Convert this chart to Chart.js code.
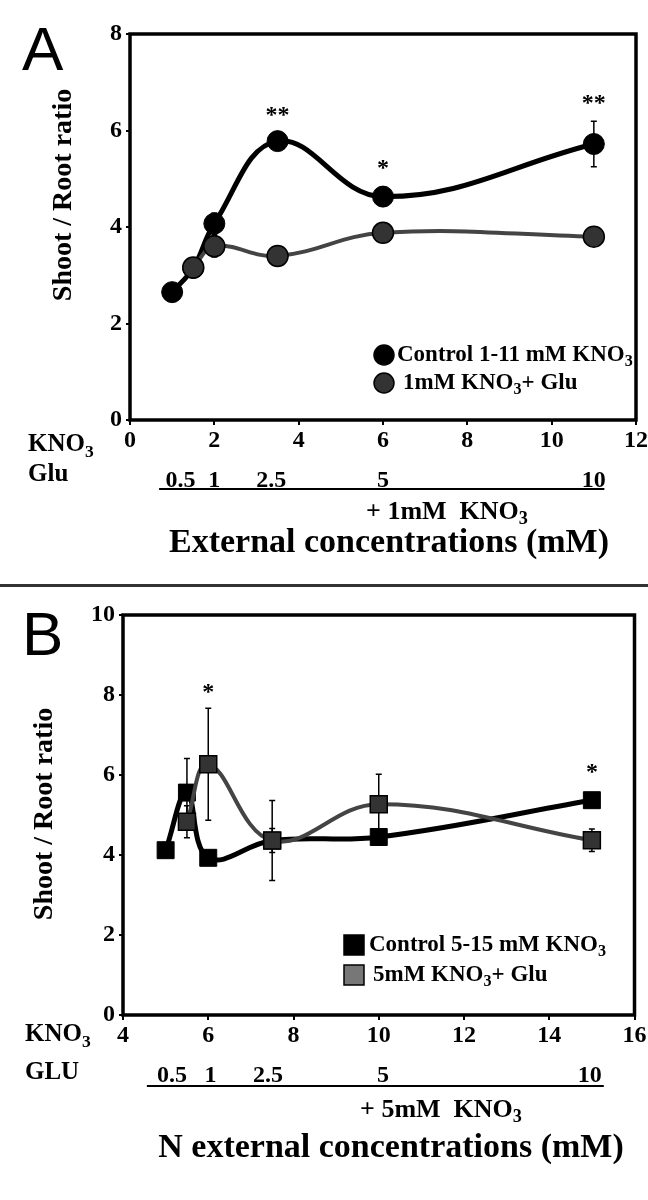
<!DOCTYPE html>
<html>
<head>
<meta charset="utf-8">
<script src="https://cdn.jsdelivr.net/npm/chart.js@4"></script>
<style>
  body { margin: 0; background: #fff; }
  .panel { position: relative; width: 648px; }
  #wrapA { height: 584px; }
  #wrapB { height: 613px; }
  .sep { height: 3px; background: #333; }
</style>
</head>
<body>
<div class="panel" id="wrapA"><canvas id="chartA"></canvas></div>
<div class="sep"></div>
<div class="panel" id="wrapB"><canvas id="chartB"></canvas></div>
<script>
// Panel A - KNO3 1-11 mM vs 1 mM KNO3 + Glu
const aControlX = [1, 1.5, 2, 3.5, 6, 11];
const aControlY = [2.65, 3.15, 4.07, 5.78, 4.63, 5.72];
const aControlErr = [0.05, 0.1, 0.22, 0.08, 0.2, 0.47];
const aGluX = [1.5, 2, 3.5, 6, 11];
const aGluY = [3.16, 3.6, 3.4, 3.88, 3.8];
const aGluErr = [0.12, 0.22, 0.18, 0.1, 0.06];
const aGluTickPos = [1.2, 2, 3.35, 6, 11];
const aGluTickLabels = ['0.5', '1', '2.5', '5', '10'];
const aStarX = [3.5, 6, 11];
const aStarY = [6.3, 5.2, 6.55];
const aStarText = ['**', '*', '**'];

// Panel B - KNO3 5-15 mM vs 5 mM KNO3 + Glu
const bControlX = [5, 5.5, 6, 7.5, 10, 15];
const bControlY = [4.12, 5.56, 3.93, 4.36, 4.45, 5.37];
const bControlErr = [0.05, 0.85, 0.08, 0.3, 0.2, 0.15];
const bGluX = [5.5, 6, 7.5, 10, 15];
const bGluY = [4.83, 6.27, 4.36, 5.27, 4.37];
const bGluErr = [0.4, 1.4, 1.0, 0.75, 0.28];
const bGluTickPos = [5.15, 6.05, 7.4, 10.1, 14.95];
const bGluTickLabels = ['0.5', '1', '2.5', '5', '10'];
const bStarX = [6, 15];
const bStarY = [8.05, 6.05];
const bStarText = ['*', '*'];

const SERIF = '"Liberation Serif", "Times New Roman", serif';
const tickFont = { family: SERIF, size: 24, weight: 'bold' };

function pts(xs, ys) {
  return xs.map((x, i) => ({ x: x, y: ys[i] }));
}

// draws text with subscript parts: [[text, isSub], ...]
function rich(ctx, parts, x, y, size, align) {
  ctx.save();
  ctx.textBaseline = 'middle';
  ctx.textAlign = 'left';
  let w = 0;
  parts.forEach(p => {
    ctx.font = 'bold ' + (p[1] ? size * 0.7 : size) + 'px ' + SERIF;
    w += ctx.measureText(p[0]).width;
  });
  let cx = align === 'center' ? x - w / 2 : x;
  parts.forEach(p => {
    ctx.font = 'bold ' + (p[1] ? size * 0.7 : size) + 'px ' + SERIF;
    ctx.fillText(p[0], cx, p[1] ? y + size * 0.3 : y);
    cx += ctx.measureText(p[0]).width;
  });
  ctx.restore();
}

const errorBars = {
  id: 'errorBars',
  beforeDatasetsDraw(chart) {
    const ctx = chart.ctx;
    const xs = chart.scales.x, ys = chart.scales.y;
    ctx.save();
    ctx.strokeStyle = '#000';
    ctx.lineWidth = 1.5;
    chart.data.datasets.forEach(ds => {
      ds.data.forEach((p, i) => {
        const e = ds.err[i];
        const px = xs.getPixelForValue(p.x);
        const top = ys.getPixelForValue(p.y + e);
        const bot = ys.getPixelForValue(p.y - e);
        ctx.beginPath();
        ctx.moveTo(px, top); ctx.lineTo(px, bot);
        ctx.moveTo(px - 3, top); ctx.lineTo(px + 3, top);
        ctx.moveTo(px - 3, bot); ctx.lineTo(px + 3, bot);
        ctx.stroke();
      });
    });
    ctx.restore();
  }
};

const decor = {
  id: 'decor',
  afterDraw(chart, args, o) {
    const ctx = chart.ctx;
    const a = chart.chartArea;
    const xs = chart.scales.x, ys = chart.scales.y;
    ctx.save();
    // frame
    ctx.strokeStyle = '#000';
    ctx.lineWidth = 3.5;
    ctx.strokeRect(a.left, a.top, a.right - a.left, a.bottom - a.top);
    // panel letter
    ctx.fillStyle = '#000';
    ctx.font = '62px "Liberation Sans", Arial, sans-serif';
    ctx.textBaseline = 'alphabetic';
    ctx.fillText(o.letter, o.letterX, o.letterY);
    // y title
    ctx.save();
    ctx.translate(o.yTitleX, o.yTitleY);
    ctx.rotate(-Math.PI / 2);
    ctx.font = 'bold 28px ' + SERIF;
    ctx.textAlign = 'center';
    ctx.textBaseline = 'middle';
    ctx.fillText('Shoot / Root ratio', 0, 0);
    ctx.restore();
    // row labels
    rich(ctx, o.row1, o.rowX, o.row1Y, 25);
    rich(ctx, o.row2, o.rowX, o.row2Y, 25);
    // underline
    ctx.lineWidth = 2;
    ctx.beginPath();
    ctx.moveTo(xs.getPixelForValue(o.lineFrom), o.lineY);
    ctx.lineTo(xs.getPixelForValue(o.lineTo), o.lineY);
    ctx.stroke();
    rich(ctx, o.plus, o.plusX, o.plusY, 26, 'center');
    ctx.font = 'bold 34px ' + SERIF;
    ctx.textAlign = 'center';
    ctx.textBaseline = 'middle';
    ctx.fillText(o.title, o.titleX, o.titleY);
    // stars
    ctx.font = 'bold 24px ' + SERIF;
    o.starX.forEach((sx, i) => {
      ctx.fillText(o.starText[i], xs.getPixelForValue(sx), ys.getPixelForValue(o.starY[i]));
    });
    // legend
    o.legend.forEach(l => {
      ctx.beginPath();
      ctx.fillStyle = l.fill;
      ctx.strokeStyle = '#000';
      ctx.lineWidth = 1.5;
      if (l.shape === 'circle') {
        ctx.arc(l.mx, l.y, 10, 0, Math.PI * 2);
      } else {
        ctx.rect(l.mx - 10, l.y - 10, 20, 20);
      }
      ctx.fill();
      ctx.stroke();
      ctx.fillStyle = '#000';
      rich(ctx, l.parts, l.tx, l.y, 23);
    });
    ctx.restore();
  }
};

function makeChart(id, cfg) {
  const gluTicks = cfg.gluTickPos;
  return new Chart(document.getElementById(id), {
    type: 'line',
    data: {
      datasets: [{
        data: pts(cfg.gluX, cfg.gluY),
        err: cfg.gluErr,
        borderColor: '#444',
        borderWidth: 4,
        pointStyle: cfg.shape,
        pointRadius: cfg.radius,
        pointBackgroundColor: '#333',
        pointBorderColor: '#000',
        pointBorderWidth: 1.5,
        tension: 0.4,
        order: 0
      }, {
        data: pts(cfg.ctrlX, cfg.ctrlY),
        err: cfg.ctrlErr,
        borderColor: '#000',
        borderWidth: 5,
        pointStyle: cfg.shape,
        pointRadius: cfg.radius,
        pointBackgroundColor: '#000',
        pointBorderColor: '#000',
        pointBorderWidth: 1,
        tension: 0.4,
        order: 1
      }]
    },
    options: {
      responsive: true,
      maintainAspectRatio: false,
      animation: false,
      layout: { padding: { top: cfg.padTop, right: cfg.padRight, bottom: cfg.padBottom, left: 0 } },
      plugins: {
        legend: { display: false },
        tooltip: { enabled: false },
        decor: cfg.decor
      },
      scales: {
        x: {
          type: 'linear',
          position: 'bottom',
          weight: 0,
          min: cfg.xMin,
          max: cfg.xMax,
          ticks: { stepSize: 2, font: tickFont, color: '#000', padding: 1, maxRotation: 0 },
          grid: { drawOnChartArea: false, tickLength: 5, color: '#000', lineWidth: 2 },
          border: { display: false },
          afterFit: s => { s.height = 38; s.paddingLeft = 0; s.paddingRight = 0; }
        },
        x2: {
          type: 'linear',
          position: 'bottom',
          weight: 1,
          min: cfg.xMin,
          max: cfg.xMax,
          afterBuildTicks: s => { s.ticks = gluTicks.map(v => ({ value: v })); },
          ticks: {
            callback: (v, i) => cfg.gluTickLabels[i],
            autoSkip: false, maxRotation: 0, font: tickFont, color: '#000', padding: 0
          },
          grid: { display: false },
          border: { display: false },
          afterFit: s => { s.height = 36; s.paddingLeft = 0; s.paddingRight = 0; }
        },
        y: {
          min: 0,
          max: cfg.yMax,
          ticks: { stepSize: 2, font: tickFont, color: '#000', padding: 4 },
          grid: { drawOnChartArea: false, tickLength: 4, color: '#000', lineWidth: 2 },
          border: { display: false },
          afterFit: s => { s.width = cfg.yWidth; s.paddingTop = 0; s.paddingBottom = 0; }
        }
      }
    },
    plugins: [errorBars, decor]
  });
}

makeChart('chartA', {
  ctrlX: aControlX, ctrlY: aControlY, ctrlErr: aControlErr,
  gluX: aGluX, gluY: aGluY, gluErr: aGluErr,
  gluTickPos: aGluTickPos, gluTickLabels: aGluTickLabels,
  shape: 'circle', radius: 10.5,
  xMin: 0, xMax: 12, yMax: 8, yWidth: 130,
  padTop: 34, padRight: 10, padBottom: 90,
  decor: {
    letter: 'A', letterX: 22, letterY: 70,
    yTitleX: 64, yTitleY: 195,
    rowX: 28, row1: [['KNO', 0], ['3', 1]], row1Y: 445, row2: [['Glu', 0]], row2Y: 475,
    lineFrom: 0.69, lineTo: 11.25, lineY: 489,
    plus: [['+ 1mM  KNO', 0], ['3', 1]], plusX: 447, plusY: 512,
    title: 'External concentrations (mM)', titleX: 389, titleY: 543,
    starX: aStarX, starY: aStarY, starText: aStarText,
    legend: [
      { shape: 'circle', fill: '#000', mx: 384, tx: 397, y: 355, parts: [['Control 1-11 mM KNO', 0], ['3', 1]] },
      { shape: 'circle', fill: '#333', mx: 384, tx: 403, y: 383, parts: [['1mM KNO', 0], ['3', 1], ['+ Glu', 0]] }
    ]
  }
});

makeChart('chartB', {
  ctrlX: bControlX, ctrlY: bControlY, ctrlErr: bControlErr,
  gluX: bGluX, gluY: bGluY, gluErr: bGluErr,
  gluTickPos: bGluTickPos, gluTickLabels: bGluTickLabels,
  shape: 'rect', radius: 12,
  xMin: 4, xMax: 16, yMax: 10, yWidth: 123,
  padTop: 28, padRight: 12, padBottom: 111,
  decor: {
    letter: 'B', letterX: 22, letterY: 68,
    yTitleX: 45, yTitleY: 227,
    rowX: 25, row1: [['KNO', 0], ['3', 1]], row1Y: 448, row2: [['GLU', 0]], row2Y: 486,
    lineFrom: 4.56, lineTo: 15.28, lineY: 499,
    plus: [['+ 5mM  KNO', 0], ['3', 1]], plusX: 441, plusY: 523,
    title: 'N external concentrations (mM)', titleX: 391, titleY: 561,
    starX: bStarX, starY: bStarY, starText: bStarText,
    legend: [
      { shape: 'rect', fill: '#000', mx: 354, tx: 369, y: 358, parts: [['Control 5-15 mM KNO', 0], ['3', 1]] },
      { shape: 'rect', fill: '#777', mx: 354, tx: 373, y: 388, parts: [['5mM KNO', 0], ['3', 1], ['+ Glu', 0]] }
    ]
  }
});
</script>
</body>
</html>
